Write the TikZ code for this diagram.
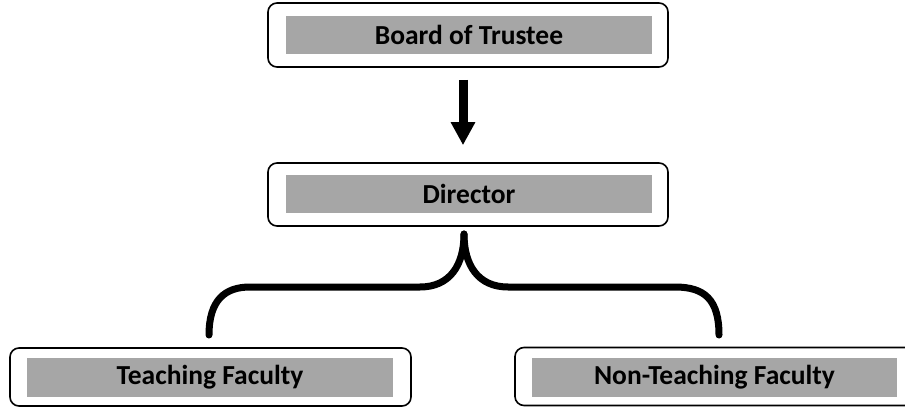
\documentclass[tikz,border=0pt]{standalone}
\usepackage{fontspec}
\setmainfont{Carlito}
\usetikzlibrary{arrows.meta}
\definecolor{boxgray}{HTML}{A6A6A6}
\tikzset{
  outerbox/.style={draw=black, line width=1.6pt, rounded corners=9pt, fill=white, inner sep=0pt},
  graybox/.style={fill=boxgray, inner sep=0pt, font=\bfseries\fontsize{27.5}{31}\selectfont, text=black},
  brace/.style={line width=7pt, line cap=round},
}
\begin{document}
\begin{tikzpicture}[x=1pt,y=1pt]
\useasboundingbox (0,0) rectangle (905,408);
\begin{scope}
\clip (0,0) rectangle (905,408);
% top
\node[outerbox, minimum width=400pt, minimum height=64pt] (trusteeout) at (468,373) {};
\node[graybox, minimum width=366pt, minimum height=38pt] (trustee) at (469,373) {Board of Trustee};
% director
\node[outerbox, minimum width=400pt, minimum height=63pt] (directorout) at (468,213.5) {};
\node[graybox, minimum width=366pt, minimum height=38pt] (director) at (469,214) {Director};
% bottom
\node[outerbox, minimum width=401pt, minimum height=58pt] (teachout) at (210.5,31) {};
\node[graybox, minimum width=366pt, minimum height=39pt] (teach) at (210,30.5) {Teaching Faculty};
\node[outerbox, minimum width=410pt, minimum height=58pt] (nonteachout) at (720,31.5) {};
\node[graybox, minimum width=365pt, minimum height=39pt] (nonteach) at (714.5,30.5) {Non-Teaching Faculty};
\end{scope}
% arrow
\draw[line width=9pt, -{Triangle[width=23pt,length=23pt]}, shorten <=12pt, shorten >=17pt]
  ([xshift=-5pt]trusteeout.south) -- ([xshift=-5pt]directorout.north);
% brace
\coordinate (peak) at (464,174);
\coordinate (lleg) at (209,73);
\coordinate (rleg) at (719,73);
\draw[brace] (peak) .. controls (464,143) and (450,121) .. (420,121) -- (250,121)
  .. controls (225,121) and (209,108) .. (lleg);
\draw[brace] (peak) .. controls (464,143) and (478,121) .. (508,121) -- (675,121)
  .. controls (705,121) and (719,108) .. (rleg);
\end{tikzpicture}
\end{document}
